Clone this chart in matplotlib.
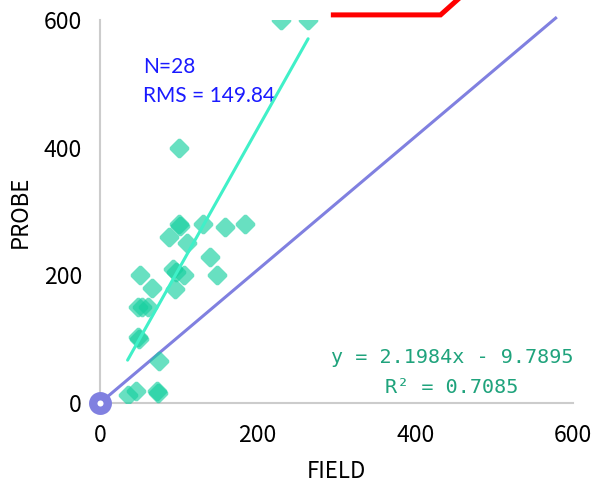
import numpy as np
import matplotlib
matplotlib.use("Agg")
import matplotlib.pyplot as plt
from matplotlib.path import Path
from matplotlib.transforms import Affine2D

# Paired readings
field = [229, 264, 100, 100, 102, 131, 159, 184, 88, 110, 140, 93, 107, 95,
         97, 149, 51, 66, 48, 53, 61, 48, 50, 75, 35, 46, 72, 74]
probe = [600, 600, 400, 280, 278, 280, 275, 280, 260, 250, 228, 210, 200, 178,
         205, 200, 200, 180, 150, 150, 150, 103, 100, 66, 12, 19, 19, 15]

# Linear fit as reported
slope = 2.1984
intercept = -9.7895
r_squared = 0.7085
rms = 149.84

# Reference line and upper trace
ref_x = [0, 578]
ref_y = [0, 603]
red_x = [296, 432, 470]
red_y = [608, 608, 650]

ticks = [0, 200, 400, 600]


def rounded_diamond(r=0.35):
    """Square with rounded corners, turned 45 degrees."""
    verts, codes = [], []
    corners = [(1, 1), (-1, 1), (-1, -1), (1, -1)]
    for i, (cx, cy) in enumerate(corners):
        nx, ny = corners[(i + 1) % 4]
        dx, dy = np.sign(nx - cx), np.sign(ny - cy)
        p_start = (cx + dx * r, cy + dy * r)
        p_end = (nx - dx * r, ny - dy * r)
        if i == 0:
            verts.append(p_start)
            codes.append(Path.MOVETO)
        verts.append(p_end)
        codes.append(Path.LINETO)
        nnx, nny = corners[(i + 2) % 4]
        ddx, ddy = np.sign(nnx - nx), np.sign(nny - ny)
        verts.append((nx, ny))
        codes.append(Path.CURVE3)
        verts.append((nx + ddx * r, ny + ddy * r))
        codes.append(Path.CURVE3)
    verts.append(verts[0])
    codes.append(Path.CLOSEPOLY)
    path = Path(verts, codes)
    return path.transformed(Affine2D().rotate_deg(45))


fig = plt.figure(figsize=(5.92, 4.83), dpi=100)
ax = fig.add_axes([100 / 592, 80 / 483, 473 / 592, 383 / 483])

ax.set_xlim(0, 600)
ax.set_ylim(0, 600)

# Scatter of readings
ax.scatter(field, probe, marker=rounded_diamond(), s=250, color="#17d0a0",
           alpha=0.65, linewidths=0, zorder=3)

# Fitted line across the data range
fx = np.array([min(field), max(field)])
ax.plot(fx, slope * fx + intercept, color="#40f0c8", lw=2.2, zorder=4,
        solid_capstyle="round")

# Reference line with origin marker
ax.plot(ref_x, ref_y, color="#8080e0", lw=2.2, zorder=2, clip_on=False)
ax.plot([0], [0], marker="o", ms=10.5, mew=6, mec="#8080e0", mfc="white",
        zorder=5, clip_on=False)

# Upper trace
ax.plot(red_x, red_y, color="#ff0000", lw=3.6, zorder=2, clip_on=False,
        solid_joinstyle="miter")

# Axes styling
for side in ("top", "right"):
    ax.spines[side].set_visible(False)
for side in ("left", "bottom"):
    ax.spines[side].set_color("#cccccc")
    ax.spines[side].set_linewidth(1.5)
ax.set_xticks(ticks)
ax.set_yticks(ticks)
ax.tick_params(length=0, labelsize=16.5)
ax.tick_params(axis="x", pad=15)
ax.tick_params(axis="y", pad=13)
for lab in ax.get_xticklabels() + ax.get_yticklabels():
    lab.set_fontfamily(["Noto Sans CJK JP", "DejaVu Sans"])

ax.text(0.5, -0.18, "FIELD", transform=ax.transAxes, ha="center", va="center",
        fontsize=16, family=["Noto Sans CJK JP", "DejaVu Sans"],
        color="black")
ax.text(-0.169, 0.5, "PROBE", transform=ax.transAxes, ha="center",
        va="center", rotation=90, fontsize=16,
        family=["Noto Sans CJK JP", "DejaVu Sans"], color="black")

# Summary statistics
ax.text(43 / 473, (403 - 73) / 383, f"N={len(field)}", transform=ax.transAxes,
        ha="left", va="baseline", fontsize=15, family="Lato", color="#1a1aff")
ax.text(43 / 473, (403 - 102) / 383, f"RMS = {rms:.2f}",
        transform=ax.transAxes, ha="left", va="baseline", fontsize=15,
        family="Lato", color="#1a1aff")

# Fit equation
eq_color = "#1fa37c"
ax.text(352 / 473, (403 - 363) / 383,
        f"y = {slope:.4f}x - {abs(intercept):.4f}", transform=ax.transAxes,
        ha="center", va="baseline", fontsize=14.5,
        family="DejaVu Sans Mono", color=eq_color)
ax.text(352 / 473, (403 - 393) / 383, f"R\u00b2 = {r_squared:.4f}",
        transform=ax.transAxes, ha="center", va="baseline", fontsize=14.5,
        family="DejaVu Sans Mono", color=eq_color)

fig.savefig("out.png", dpi=100)
